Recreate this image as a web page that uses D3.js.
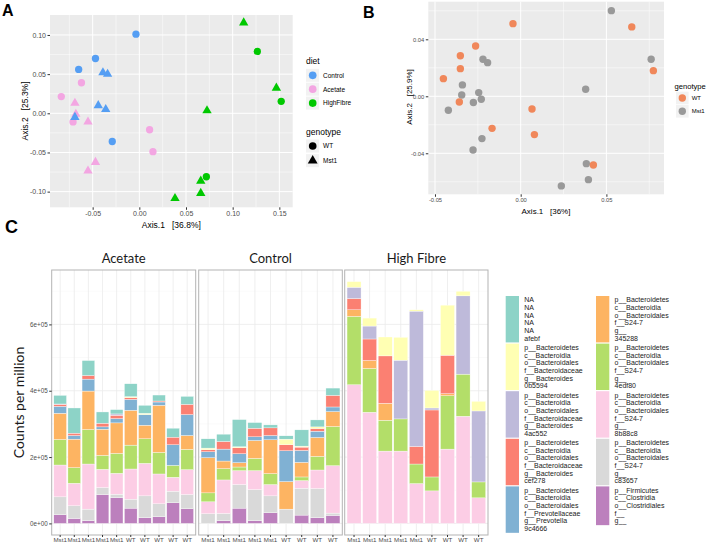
<!DOCTYPE html>
<html lang="en">
<head>
<meta charset="UTF-8">
<title>Diet, genotype and gut microbiota</title>
<script src="https://d3js.org/d3.v7.min.js"></script>
<style>
  body { margin: 0; background: white; }
  text { font-family: "Liberation Sans", Arial, Helvetica, sans-serif; }
  .panel-tag { font-size: 16px; font-weight: bold; fill: #000; }
  .axis-title { font-size: 8.5px; fill: #000; white-space: pre; }
  .leg-title { font-size: 8.5px; fill: #000; }
  .leg-lab { font-size: 6.5px; fill: #000; }
  .strip { font-family: Lato, "Open Sans", sans-serif; font-size: 13px; fill: #1a1a1a; }
  .taxon { font-size: 7px; fill: #222; }
</style>
</head>
<body>
<svg id="fig" width="708" height="544"></svg>
<script>
// ---- panel A : PCoA coloured by diet, shaped by genotype ----
const dietNames = ['Control', 'Acetate', 'HighFibre'];
const dietColors = ['#559ef3', '#f3a6e2', '#00c800'];
const genoNames = ['WT', 'Mst1'];

const controlPts = [
  [-0.0036, 0.101, 'WT'], [-0.047, 0.070, 'WT'], [-0.065, 0.056, 'WT'], [-0.029, -0.036, 'WT'],
  [-0.039, 0.052, 'Mst1'], [-0.034, 0.050, 'Mst1'], [-0.044, 0.010, 'Mst1'], [-0.036, 0.005, 'Mst1'], [-0.069, -0.005, 'Mst1']
];
const acetatePts = [
  [-0.0836, 0.0213, 'WT'], [-0.062, 0.039, 'WT'], [-0.071, -0.011, 'WT'], [0.011, -0.021, 'WT'], [0.0146, -0.049, 'WT'],
  [-0.069, 0.013, 'Mst1'], [-0.068, -0.001, 'Mst1'], [-0.055, -0.011, 'Mst1'], [-0.047, -0.0625, 'Mst1'], [-0.055, -0.0735, 'Mst1']
];
const fibrePts = [
  [0.1264, 0.079, 'WT'], [0.152, 0.0153, 'WT'], [0.0718, -0.081, 'WT'],
  [0.1118, 0.1156, 'Mst1'], [0.1468, 0.0323, 'Mst1'], [0.0725, 0.0034, 'Mst1'],
  [0.0658, -0.0864, 'Mst1'], [0.0658, -0.102, 'Mst1'], [0.0382, -0.1085, 'Mst1']
];
const aXTicks = [-0.05, 0, 0.05, 0.10, 0.15];
const aYTicks = [-0.10, -0.05, 0, 0.05, 0.10];

// ---- panel B : PCoA coloured by genotype ----
const genoColorsB = ['#f0875a', '#999999'];
const wtPtsB = [
  [-0.0045, 0.051], [0.0648, 0.0487], [-0.0263, 0.0353], [-0.0352, 0.0285], [-0.0352, 0.0194], [-0.0451, 0.0124],
  [0.0774, 0.018], [-0.0358, -0.004], [0.0066, -0.0089], [-0.0167, -0.0225], [0.008, -0.0269], [0.0424, -0.0482]
];
const mstPtsB = [
  [0.0529, 0.0601], [0.0761, 0.026], [-0.022, 0.026], [-0.0193, 0.0236], [-0.034, 0.008], [-0.0344, 0.0009],
  [-0.0245, 0.0026], [-0.023, -0.0021], [-0.0276, -0.0044], [-0.0422, -0.0098], [0.0379, 0.0049],
  [-0.0226, -0.0297], [-0.0278, -0.0377], [0.0383, -0.0473], [0.0395, -0.0585], [0.0237, -0.0629]
];
const bXTicks = [-0.05, 0, 0.05];
const bYTicks = [-0.04, 0, 0.04];

// ---- panel C : stacked counts per million (thousands), bottom -> top ----
const taxa = ['Firmicutes', 'c83657', '8b88c8', '4edf80', '345288', '9c4666', 'cef278', '4ac552', '0b5594', 'afebf'];
const taxaColors = ['#bc80bd', '#d9d9d9', '#fccde5', '#b3de69', '#fdb462', '#80b1d3', '#fb8072', '#bebada', '#ffffb3', '#8dd3c7'];

const acetateGeno = ['Mst1', 'Mst1', 'Mst1', 'Mst1', 'Mst1', 'WT', 'WT', 'WT', 'WT', 'WT'];
const acetateBars = [
  [26, 54, 96, 77, 79, 21, 6, 1, 0, 26],
  [15, 38, 68, 47, 86, 11, 7, 0, 0, 76],
  [8, 35, 136, 104, 116, 36, 11, 0, 0, 45],
  [87, 21, 55, 42, 79, 7, 11, 0, 0, 34],
  [78, 10, 63, 60, 92, 13, 10, 4, 0, 13],
  [46, 27, 91, 72, 105, 33, 5, 0, 3, 39],
  [17, 66, 98, 74, 41, 32, 0, 0, 4, 24],
  [20, 39, 90, 65, 142, 10, 3, 0, 0, 18],
  [62, 35, 42, 36, 0, 62, 23, 0, 0, 27],
  [44, 43, 75, 61, 42, 63, 31, 0, 0, 24]
];
const controlGeno = ['Mst1', 'Mst1', 'Mst1', 'Mst1', 'Mst1', 'WT', 'WT', 'WT', 'WT'];
const controlBars = [
  [0, 29, 36, 27, 106, 18, 6, 0, 5, 28],
  [8, 22, 101, 34, 23, 36, 23, 0, 0, 22],
  [46, 71, 42, 11, 13, 27, 18, 0, 3, 82],
  [8, 94, 57, 37, 54, 11, 26, 0, 0, 17],
  [32, 51, 34, 33, 102, 13, 23, 0, 0, 9],
  [0, 43, 0, 0, 83, 93, 18, 0, 17, 10],
  [25, 81, 23, 11, 44, 36, 10, 0, 3, 49],
  [17, 88, 56, 41, 57, 19, 8, 0, 5, 21],
  [24, 7, 143, 118, 45, 14, 35, 0, 0, 22]
];
const fibreGeno = ['Mst1', 'Mst1', 'Mst1', 'Mst1', 'Mst1', 'WT', 'WT', 'WT', 'WT'];
const fibreBars = [
  [0, 0, 418, 206, 20, 0, 34, 34, 17, 0],
  [0, 0, 335, 132, 24, 0, 65, 39, 24, 0],
  [0, 0, 218, 93, 51, 0, 143, 0, 57, 0],
  [0, 0, 218, 97, 0, 0, 0, 177, 69, 0],
  [0, 0, 120, 59, 0, 0, 53, 408, 4, 0],
  [0, 0, 98, 42, 0, 0, 202, 6, 53, 0],
  [0, 0, 224, 161, 6, 0, 116, 0, 151, 0],
  [0, 0, 323, 127, 0, 0, 0, 236, 14, 0],
  [0, 0, 77, 48, 0, 0, 0, 214, 29, 0]
];
const cYTicks = [0, 200000, 400000, 600000];
const cYMinor = [100000, 300000, 500000, 700000];

const bact = ['p__Bacteroidetes', 'c__Bacteroidia', 'o__Bacteroidales'];
const legendLines = {
  'afebf': ['NA', 'NA', 'NA', 'NA', 'NA', 'afebf'],
  '0b5594': [...bact, 'f__Bacteroidaceae', 'g__Bacteroides', '0b5594'],
  '4ac552': [...bact, 'f__Bacteroidaceae', 'g__Bacteroides', '4ac552'],
  'cef278': [...bact, 'f__Bacteroidaceae', 'g__Bacteroides', 'cef278'],
  '9c4666': [...bact, 'f__Prevotellaceae', 'g__Prevotella', '9c4666'],
  '345288': [...bact, 'f__S24-7', 'g__', '345288'],
  '4edf80': [...bact, 'f__S24-7', 'g__', '4edf80'],
  '8b88c8': [...bact, 'f__S24-7', 'g__', '8b88c8'],
  'c83657': [...bact, 'f__S24-7', 'g__', 'c83657'],
  'Firmicutes': ['p__Firmicutes', 'c__Clostridia', 'o__Clostridiales', 'f__', 'g__']
};

const svg = d3.select('#fig');

// grey ggplot-style panel with white grid
function greyPanel(g, x, y, xMajor, xMinor, yMajor, yMinor) {
  const [x0, x1] = x.range(), [y1, y0] = y.range();
  g.append('rect').attr('x', x0).attr('y', y0).attr('width', x1 - x0).attr('height', y1 - y0).attr('fill', '#ebebeb');
  const vl = (vals, w) => g.selectAll(null).data(vals).enter().append('line')
    .attr('x1', d => x(d)).attr('x2', d => x(d)).attr('y1', y0).attr('y2', y1)
    .attr('stroke', '#fff').attr('stroke-width', w);
  const hl = (vals, w) => g.selectAll(null).data(vals).enter().append('line')
    .attr('y1', d => y(d)).attr('y2', d => y(d)).attr('x1', x0).attr('x2', x1)
    .attr('stroke', '#fff').attr('stroke-width', w);
  vl(xMinor, 0.5); hl(yMinor, 0.5); vl(xMajor, 1); hl(yMajor, 1);
}

function styleAxis(a, size) {
  a.select('.domain').remove();
  a.selectAll('line').attr('stroke', '#333');
  a.selectAll('text').attr('fill', '#4d4d4d').style('font-size', size + 'px')
    .style('font-family', '"Liberation Sans", Arial, sans-serif');
}

const fmt2 = d => d.toFixed(2);

// ================= A =================
const gA = svg.append('g');
const ax = d3.scaleLinear().domain([-0.0957, 0.1643]).range([50, 292.7]);
const ay = d3.scaleLinear().domain([-0.120, 0.1255]).range([207.3, 15]);
greyPanel(gA, ax, ay, aXTicks, [-0.075, -0.025, 0.025, 0.075, 0.125], aYTicks, [-0.075, -0.025, 0.025, 0.075]);

gA.append('g').attr('transform', 'translate(50,0)')
  .call(d3.axisLeft(ay).tickValues(aYTicks).tickFormat(fmt2).tickSize(2.5).tickPadding(1.5))
  .call(a => styleAxis(a, 7));
gA.append('g').attr('transform', 'translate(0,207.3)')
  .call(d3.axisBottom(ax).tickValues(aXTicks).tickFormat(fmt2).tickSize(2.5).tickPadding(1.5))
  .call(a => styleAxis(a, 7));

const symFor = (geno, k) => d3.symbol().type(geno === 'WT' ? d3.symbolCircle : d3.symbolTriangle).size(geno === 'WT' ? 42 * k : 38 * k)();

[[acetatePts, 1], [controlPts, 0], [fibrePts, 2]].forEach(([pts, di]) => {
  gA.selectAll(null).data(pts).enter().append('path')
    .attr('transform', d => `translate(${ax(d[0])},${ay(d[1])})`)
    .attr('d', d => symFor(d[2], 1))
    .attr('fill', dietColors[di]);
});

gA.append('text').attr('class', 'axis-title').attr('x', 171.3).attr('y', 228).attr('text-anchor', 'middle').text('Axis.1   [36.8%]');
gA.append('text').attr('class', 'axis-title').attr('transform', 'translate(28,111) rotate(-90)').attr('text-anchor', 'middle').text('Axis.2   [25.3%]');

// legend A
gA.append('text').attr('class', 'leg-title').attr('x', 306).attr('y', 63.5).text('diet');
dietNames.forEach((n, i) => {
  const cy = 75.3 + i * 13.9;
  gA.append('rect').attr('x', 306).attr('y', cy - 6.5).attr('width', 13).attr('height', 13).attr('fill', '#f2f2f2');
  gA.append('path').attr('transform', `translate(312.7,${cy})`).attr('d', symFor('WT', 1.1)).attr('fill', dietColors[i]);
  gA.append('text').attr('class', 'leg-lab').attr('x', 323).attr('y', cy + 2.3).text(n);
});
gA.append('text').attr('class', 'leg-title').attr('x', 306).attr('y', 134.7).text('genotype');
genoNames.forEach((n, i) => {
  const cy = 146 + i * 14.7;
  gA.append('rect').attr('x', 306).attr('y', cy - 6.5).attr('width', 13).attr('height', 13).attr('fill', '#f2f2f2');
  gA.append('path').attr('transform', `translate(312.7,${cy})`).attr('d', symFor(n, 1.1)).attr('fill', '#000');
  gA.append('text').attr('class', 'leg-lab').attr('x', 323).attr('y', cy + 2.3).text(n);
});

// ================= B =================
const gB = svg.append('g');
const bx = d3.scaleLinear().domain([-0.0539, 0.0836]).range([428.3, 664]);
const by = d3.scaleLinear().domain([-0.0688, 0.0664]).range([194.3, 1.7]);
greyPanel(gB, bx, by, bXTicks, [-0.025, 0.025, 0.075], bYTicks, [-0.06, -0.02, 0.02, 0.06]);
gB.append('g').attr('transform', 'translate(428.3,0)')
  .call(d3.axisLeft(by).tickValues(bYTicks).tickFormat(fmt2).tickSize(2.5).tickPadding(1.5))
  .call(a => styleAxis(a, 5.8));
gB.append('g').attr('transform', 'translate(0,194.3)')
  .call(d3.axisBottom(bx).tickValues(bXTicks).tickFormat(fmt2).tickSize(2.5).tickPadding(1.5))
  .call(a => styleAxis(a, 5.8));

[[mstPtsB, 1], [wtPtsB, 0]].forEach(([pts, gi]) => {
  gB.selectAll(null).data(pts).enter().append('circle')
    .attr('cx', d => bx(d[0])).attr('cy', d => by(d[1])).attr('r', 3.7)
    .attr('fill', genoColorsB[gi]);
});
gB.append('text').attr('class', 'axis-title').style('font-size', '8px').attr('x', 546).attr('y', 213.5).attr('text-anchor', 'middle').text('Axis.1   [36%]');
gB.append('text').attr('class', 'axis-title').style('font-size', '8px').attr('transform', 'translate(411.5,97) rotate(-90)').attr('text-anchor', 'middle').text('Axis.2   [25.9%]');

gB.append('text').attr('class', 'leg-title').style('font-size', '7.6px').attr('x', 674.5).attr('y', 89).text('genotype');
genoNames.forEach((n, i) => {
  const cy = 98 + i * 13.3;
  gB.append('rect').attr('x', 676).attr('y', cy - 6.3).attr('width', 12.6).attr('height', 12.6).attr('fill', '#f2f2f2');
  gB.append('circle').attr('cx', 682.3).attr('cy', cy).attr('r', 3.7).attr('fill', genoColorsB[i]);
  gB.append('text').attr('class', 'leg-lab').style('font-size', '6px').attr('x', 691.7).attr('y', cy + 2.1).text(n);
});

// ================= C =================
const gC = svg.append('g');
const cy = d3.scaleLinear().domain([-35000, 764000]).range([535, 270]);
const facets = [
  { name: 'Acetate', geno: acetateGeno, bars: acetateBars, x0: 51.7, x1: 195.7 },
  { name: 'Control', geno: controlGeno, bars: controlBars, x0: 198.7, x1: 342.3 },
  { name: 'High Fibre', geno: fibreGeno, bars: fibreBars, x0: 344.7, x1: 488 }
];
const stack = d3.stack().keys(d3.range(taxa.length));

facets.forEach(f => {
  const xb = d3.scaleBand().domain(d3.range(f.bars.length)).range([f.x0, f.x1])
    .paddingInner(0.1).paddingOuter(0.15);
  const g = gC.append('g');
  g.append('rect').attr('x', f.x0).attr('y', 270).attr('width', f.x1 - f.x0).attr('height', 265).attr('fill', '#fff');
  g.selectAll(null).data(cYMinor).enter().append('line')
    .attr('x1', f.x0).attr('x2', f.x1).attr('y1', d => cy(d)).attr('y2', d => cy(d))
    .attr('stroke', '#f4f4f4').attr('stroke-width', 0.5);
  g.selectAll(null).data(cYTicks).enter().append('line')
    .attr('x1', f.x0).attr('x2', f.x1).attr('y1', d => cy(d)).attr('y2', d => cy(d))
    .attr('stroke', '#ebebeb').attr('stroke-width', 0.8);
  g.selectAll(null).data(d3.range(f.bars.length)).enter().append('line')
    .attr('x1', d => xb(d) + xb.bandwidth() / 2).attr('x2', d => xb(d) + xb.bandwidth() / 2)
    .attr('y1', 270).attr('y2', 535).attr('stroke', '#ebebeb').attr('stroke-width', 0.8);

  const series = stack(f.bars.map(b => b.map(v => v * 1000)));
  series.forEach((s, ti) => {
    g.selectAll(null).data(s.map((p, j) => ({ p, j })).filter(d => d.p[1] > d.p[0])).enter().append('rect')
      .attr('x', d => xb(d.j)).attr('width', xb.bandwidth())
      .attr('y', d => cy(d.p[1])).attr('height', d => cy(d.p[0]) - cy(d.p[1]))
      .attr('fill', taxaColors[ti]).attr('stroke', '#fff').attr('stroke-width', 0.35);
  });

  g.append('rect').attr('x', f.x0).attr('y', 270).attr('width', f.x1 - f.x0).attr('height', 265)
    .attr('fill', 'none').attr('stroke', '#b3b3b3').attr('stroke-width', 1);

  g.append('g').attr('transform', 'translate(0,535)')
    .call(d3.axisBottom(xb).tickFormat(i => f.geno[i]).tickSize(2).tickPadding(1))
    .call(a => styleAxis(a, 6.2));

  g.append('text').attr('class', 'strip').attr('x', (f.x0 + f.x1) / 2).attr('y', 262.5)
    .attr('text-anchor', 'middle').text(f.name);
});

gC.append('g').attr('transform', 'translate(51.7,0)')
  .call(d3.axisLeft(cy).tickValues(cYTicks).tickFormat(d => d === 0 ? '0e+00' : (d / 1e5) + 'e+05').tickSize(2.5).tickPadding(1.5))
  .call(a => styleAxis(a, 6.3));

gC.append('text').attr('class', 'strip').style('font-size', '14px')
  .attr('transform', 'translate(24,402.5) rotate(-90)').attr('text-anchor', 'middle').text('Counts per million');

// legend C: two columns, top to bottom in reverse stacking order
const legendOrder = taxa.slice().reverse();
const lineH = 7.67;
legendOrder.forEach((t, i) => {
  const col = Math.floor(i / 5), row = i % 5;
  const kx = col === 0 ? 505.7 : 596;
  const top = 296 + row * 47.6;
  const lines = legendLines[t];
  const h = lines.length * lineH + 0.4;
  gC.append('rect').attr('x', kx).attr('y', top).attr('width', 13.3).attr('height', h)
    .attr('fill', taxaColors[taxa.indexOf(t)]);
  const tx = gC.append('text').attr('class', 'taxon');
  lines.forEach((s, li) => {
    tx.append('tspan').attr('x', kx + 18.6).attr('y', top + lineH * (li + 0.5) + 2.5).text(s);
  });
});

// panel tags
svg.append('text').attr('class', 'panel-tag').attr('x', 2).attr('y', 16).text('A');
svg.append('text').attr('class', 'panel-tag').attr('x', 363).attr('y', 18).text('B');
svg.append('text').attr('class', 'panel-tag').attr('x', 5).attr('y', 233).style('font-size', '18px').text('C');
</script>
</body>
</html>
